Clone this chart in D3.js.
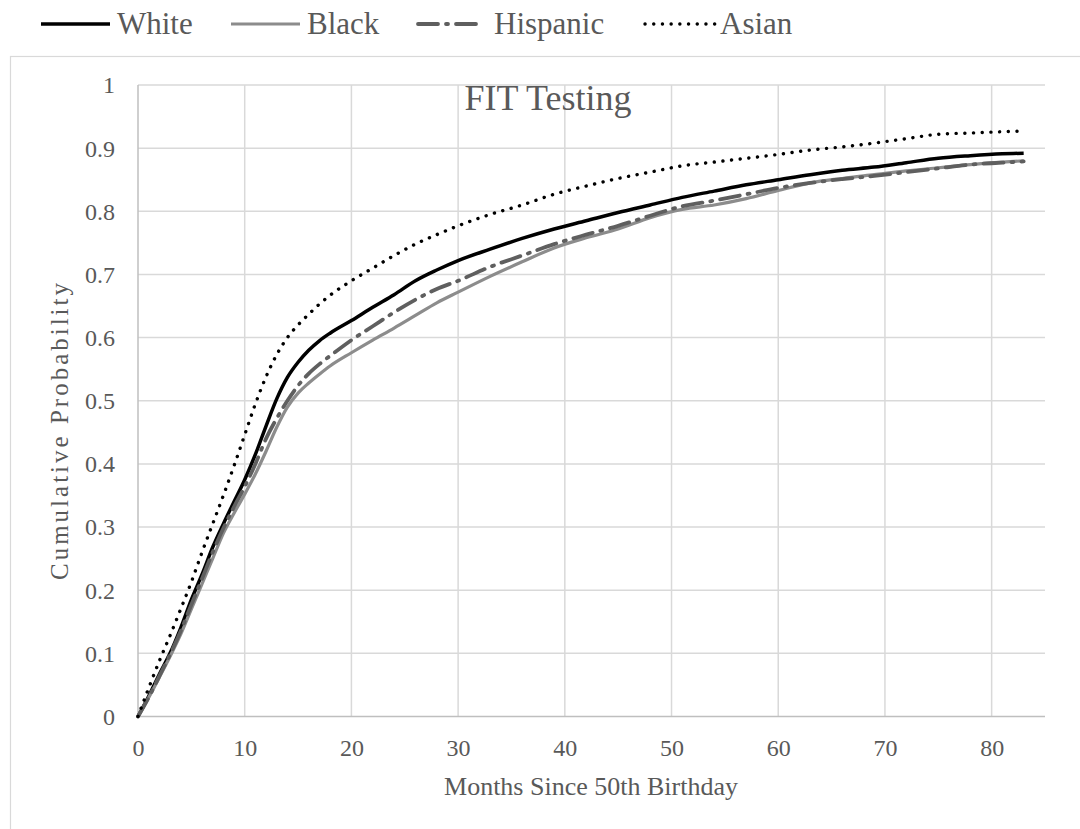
<!DOCTYPE html>
<html>
<head>
<meta charset="utf-8">
<script src="https://cdn.jsdelivr.net/npm/d3@7"></script>
<style>
  html, body { margin: 0; padding: 0; background: #fff; }
  svg { display: block; }
  text { font-family: "Liberation Serif", "Times New Roman", serif; fill: #595959; }
</style>
</head>
<body>
<svg id="chart" width="1080" height="829"></svg>
<script>
// ---- data ----
const months = [0,1,2,3,4,5,6,7,8,9,10,11,12,13,14,15,16,17,18,20,22,24,26,28,30,33,36,39,42,45,48,51,54,57,60,63,66,69,72,75,78,81,83];
const white    = [0,.032,.067,.10,.14,.185,.225,.268,.305,.34,.375,.415,.46,.503,.537,.561,.58,.595,.607,.627,.648,.668,.69,.707,.722,.74,.757,.772,.785,.798,.81,.822,.832,.842,.85,.858,.865,.87,.877,.884,.888,.891,.892];
const black    = [0,.03,.062,.095,.13,.17,.21,.25,.29,.322,.352,.384,.42,.458,.49,.512,.528,.542,.555,.576,.596,.615,.635,.655,.672,.697,.72,.742,.758,.772,.79,.803,.81,.82,.833,.845,.852,.858,.864,.869,.874,.878,.88];
const hispanic = [0,.03,.064,.098,.135,.177,.218,.26,.298,.332,.364,.4,.44,.472,.50,.524,.543,.558,.571,.596,.618,.64,.66,.677,.69,.712,.73,.748,.763,.777,.793,.808,.817,.827,.837,.845,.851,.856,.862,.868,.874,.877,.879];
const asian    = [0,.045,.088,.128,.17,.213,.26,.305,.35,.397,.446,.495,.538,.573,.6,.62,.637,.653,.667,.69,.71,.73,.748,.763,.777,.795,.81,.827,.84,.852,.862,.872,.878,.884,.89,.897,.902,.908,.915,.922,.924,.926,.927];
const seriesNames = ["White","Black","Hispanic","Asian"];
const xTicks = [0,10,20,30,40,50,60,70,80];
const yTicks = [0,0.1,0.2,0.3,0.4,0.5,0.6,0.7,0.8,0.9,1];
const chartTitle = "FIT Testing";
const xTitle = "Months Since 50th Birthday";
const yTitle = "Cumulative Probability";

const styles = {
  White:    {color:"#000000", width:3.5, dash:null, cap:"butt"},
  Black:    {color:"#8c8c8c", width:3.2, dash:null, cap:"butt"},
  Hispanic: {color:"#5f5f5f", width:3.8, dash:"20,8,2,8", cap:"round"},
  Asian:    {color:"#000000", width:3.4, dash:"0.1,8.6", cap:"round"}
};
const values = {White: white, Black: black, Hispanic: hispanic, Asian: asian};

// ---- layout ----
const svg = d3.select("#chart");
const L = 138, R = 1045, T = 85, B = 716.5;
const x = d3.scaleLinear().domain([0,85]).range([L,R]);
const y = d3.scaleLinear().domain([0,1]).range([B,T]);

// outer chart border
svg.append("rect").attr("x",10.5).attr("y",56.5).attr("width",1100).attr("height",900)
  .attr("fill","none").attr("stroke","#d9d9d9").attr("stroke-width",1.2);

// gridlines
const g = svg.append("g");
g.selectAll(".hg").data(yTicks.filter(d=>d>0)).join("line")
  .attr("x1",L).attr("x2",R).attr("y1",d=>y(d)).attr("y2",d=>y(d))
  .attr("stroke","#d9d9d9").attr("stroke-width",1.5);
g.selectAll(".vg").data(xTicks.filter(d=>d>0)).join("line")
  .attr("x1",d=>x(d)).attr("x2",d=>x(d)).attr("y1",T).attr("y2",B)
  .attr("stroke","#d9d9d9").attr("stroke-width",1.5);

// axes lines
svg.append("line").attr("x1",L).attr("x2",R).attr("y1",B).attr("y2",B)
  .attr("stroke","#bfbfbf").attr("stroke-width",1.5);
svg.append("line").attr("x1",L).attr("x2",L).attr("y1",T).attr("y2",B)
  .attr("stroke","#bfbfbf").attr("stroke-width",1.5);

// tick labels via d3 axes
const xAxis = d3.axisBottom(x).tickValues(xTicks).tickSize(0).tickPadding(0).tickFormat(d3.format("d"));
const xa = svg.append("g").attr("transform",`translate(0,${B})`).call(xAxis);
xa.select(".domain").remove();
xa.selectAll("text").attr("y",39).attr("dy",null).attr("font-size",24)
  .attr("fill","#595959").attr("font-family","Liberation Serif, serif");

const yAxis = d3.axisLeft(y).tickValues(yTicks).tickSize(0).tickPadding(0)
  .tickFormat(d => d===0 ? "0" : d===1 ? "1" : d3.format(".1f")(d));
const ya = svg.append("g").attr("transform",`translate(${L},0)`).call(yAxis);
ya.select(".domain").remove();
ya.selectAll("text").attr("x",-23).attr("dy","0.33em").attr("font-size",24)
  .attr("fill","#595959").attr("font-family","Liberation Serif, serif");

// lines
const line = d3.line().x((d,i)=>x(months[i])).y(d=>y(d)).curve(d3.curveMonotoneX);
seriesNames.forEach(name=>{
  const s = styles[name];
  svg.append("path").datum(values[name]).attr("d",line)
    .attr("fill","none").attr("stroke",s.color).attr("stroke-width",s.width)
    .attr("stroke-linecap",s.cap).attr("stroke-linejoin","round")
    .attr("stroke-dasharray",s.dash);
});

// title
svg.append("text").attr("x",548).attr("y",110).attr("text-anchor","middle")
  .attr("font-size",36).text(chartTitle);

// axis titles
svg.append("text").attr("x",591).attr("y",795).attr("text-anchor","middle")
  .attr("font-size",26).text(xTitle);
svg.append("text").attr("transform","translate(68,430) rotate(-90)")
  .attr("text-anchor","middle").attr("font-size",25).attr("letter-spacing",3).text(yTitle);

// legend
const legendPos = [
  {name:"White", x1:41, x2:110, tx:117},
  {name:"Black", x1:231, x2:300, tx:307},
  {name:"Hispanic", x1:418, x2:479, tx:494},
  {name:"Asian", x1:645, x2:716, tx:720}
];
const lg = svg.append("g");
legendPos.forEach(p=>{
  const s = styles[p.name];
  lg.append("line").attr("x1",p.x1).attr("x2",p.x2).attr("y1",24).attr("y2",24)
    .attr("stroke",s.color).attr("stroke-width",s.width)
    .attr("stroke-linecap",s.cap).attr("stroke-dasharray",s.dash);
  lg.append("text").attr("x",p.tx).attr("y",34).attr("font-size",31).text(p.name);
});
</script>
</body>
</html>
